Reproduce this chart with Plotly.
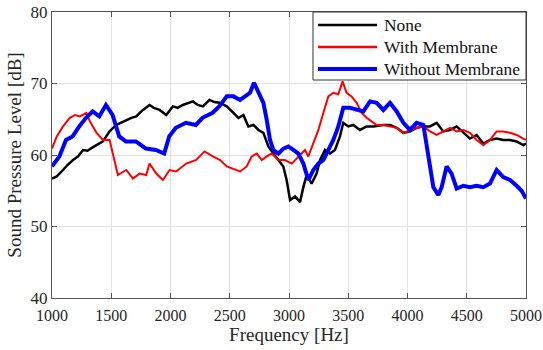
import plotly.graph_objects as go

# ---------------- data ----------------
none_f = [1000, 1040, 1093, 1130, 1177, 1220, 1261, 1300, 1346, 1390, 1430, 1486, 1542, 1580, 1627, 1670,
          1711, 1767, 1823, 1860, 1908, 1964, 2020, 2060, 2104, 2150, 2189, 2230, 2273, 2329, 2370, 2413,
          2475, 2531, 2573, 2615, 2657, 2700, 2742, 2784, 2826, 2868, 2910, 2952, 2980, 3009, 3051, 3093,
          3121, 3149, 3191, 3233, 3262, 3304, 3346, 3388, 3430, 3458, 3500, 3543, 3599, 3655, 3711, 3767,
          3796, 3852, 3909, 3965, 4021, 4077, 4134, 4190, 4246, 4302, 4359, 4415, 4471, 4527, 4583, 4640,
          4696, 4752, 4808, 4865, 4921, 4977, 5000]
none_db = [56.7, 57.0, 57.9, 58.6, 59.3, 59.8, 60.7, 60.6, 61.1, 61.5, 61.9, 63.3, 64.2, 64.5, 64.9, 65.2,
           65.4, 66.3, 67.0, 66.6, 66.3, 65.6, 66.8, 66.6, 67.0, 67.3, 67.5, 67.0, 66.8, 67.7, 67.4, 67.3,
           66.8, 65.9, 65.2, 65.6, 64.0, 64.2, 63.5, 63.1, 61.2, 60.2, 59.3, 58.4, 56.5, 53.7, 54.2, 53.4,
           55.5, 57.2, 56.0, 57.4, 59.3, 60.7, 60.2, 60.7, 62.6, 64.5, 64.0, 64.2, 63.5, 64.0, 64.0, 64.2,
           64.2, 64.2, 63.8, 63.1, 63.3, 63.8, 64.0, 64.0, 64.5, 63.3, 63.5, 64.0, 63.1, 62.3, 62.8, 61.6,
           62.1, 62.3, 62.1, 62.1, 61.9, 61.4, 61.6]

with_f = [1000, 1040, 1093, 1150, 1195, 1236, 1290, 1320, 1376, 1430, 1486, 1528, 1556, 1627, 1683, 1739,
          1795, 1823, 1880, 1936, 1992, 2048, 2132, 2217, 2287, 2357, 2419, 2475, 2531, 2587, 2643, 2685,
          2728, 2770, 2812, 2854, 2910, 2966, 3023, 3079, 3135, 3163, 3205, 3248, 3290, 3332, 3374, 3416,
          3452, 3486, 3528, 3571, 3613, 3655, 3697, 3740, 3796, 3852, 3909, 3965, 4021, 4077, 4134, 4190,
          4246, 4302, 4359, 4415, 4471, 4527, 4583, 4640, 4696, 4752, 4808, 4865, 4921, 4977, 5000]
with_db = [60.9, 62.6, 64.0, 65.2, 65.6, 65.4, 65.9, 64.7, 63.1, 62.1, 62.1, 59.3, 57.2, 57.9, 56.7, 57.4,
           57.2, 58.8, 57.4, 56.5, 57.9, 57.7, 58.8, 59.3, 60.5, 59.8, 59.3, 58.4, 58.1, 57.7, 58.4, 59.8,
           60.2, 59.3, 59.8, 60.2, 59.3, 59.3, 58.8, 59.8, 60.7, 59.8, 61.6, 63.5, 65.9, 68.2, 68.7, 68.5,
           70.3, 68.7, 68.2, 67.3, 65.9, 65.2, 64.7, 64.2, 64.2, 64.0, 63.8, 63.1, 63.5, 63.8, 64.0, 63.3,
           62.8, 63.3, 63.8, 63.3, 63.5, 63.1, 62.1, 61.4, 62.1, 63.3, 63.3, 63.1, 62.8, 62.3, 62.1]

without_f = [1000, 1062, 1118, 1174, 1230, 1287, 1343, 1399, 1455, 1511, 1567, 1624, 1708, 1792, 1877, 1947,
             1989, 2045, 2130, 2214, 2270, 2355, 2411, 2475, 2531, 2587, 2629, 2671, 2705, 2742, 2784, 2812,
             2840, 2868, 2910, 2952, 2995, 3037, 3079, 3121, 3163, 3205, 3248, 3290, 3332, 3374, 3416, 3458,
             3514, 3571, 3627, 3684, 3740, 3796, 3852, 3909, 3965, 4021, 4077, 4134, 4162, 4190, 4218, 4260,
             4288, 4330, 4372, 4415, 4471, 4527, 4583, 4640, 4696, 4752, 4808, 4865, 4921, 4963, 5000]
without_db = [58.4, 59.8, 62.1, 62.6, 64.0, 65.2, 66.1, 65.4, 67.0, 65.6, 62.6, 61.9, 61.9, 60.9, 60.7, 60.2,
              62.6, 63.8, 64.5, 64.2, 65.2, 65.9, 66.8, 68.2, 68.2, 67.7, 68.2, 68.7, 70.1, 68.7, 67.3, 64.9,
              62.1, 60.7, 60.2, 60.9, 61.2, 60.7, 60.2, 58.8, 56.5, 57.9, 58.8, 59.3, 60.7, 62.1, 64.0, 66.6,
              66.6, 66.3, 66.1, 67.5, 67.3, 66.3, 67.3, 66.1, 64.5, 63.5, 64.5, 64.2, 61.6, 58.4, 55.5, 54.4,
              55.5, 58.4, 57.4, 55.3, 55.7, 55.5, 55.7, 55.5, 56.0, 57.9, 56.9, 56.5, 55.7, 55.0, 53.9]

series_names = ["None", "With Membrane", "Without Membrane"]
series_colors = ["#000000", "#ff0000", "#0000ff"]
series_widths = [2.5, 2, 4]
x_ticks = [1000, 1500, 2000, 2500, 3000, 3500, 4000, 4500, 5000]
y_ticks = [40, 50, 60, 70, 80]

# ---------------- figure ----------------
FONT = "Liberation Serif"
fig = go.Figure()
for fx, fy, nm, col, w in zip([none_f, with_f, without_f], [none_db, with_db, without_db],
                              series_names, series_colors, series_widths):
    fig.add_trace(go.Scatter(x=fx, y=fy, mode="lines", name=nm, showlegend=False,
                             line=dict(color=col, width=w)))

axis_common = dict(showline=True, linecolor="#555555", linewidth=1, mirror="allticks",
                   ticks="inside", ticklen=5, tickcolor="#555555", showgrid=True,
                   gridcolor="#e2e2e2", gridwidth=1, zeroline=False)

fig.update_xaxes(range=[1000, 5000], tickvals=x_ticks, ticktext=[str(v) for v in x_ticks],
                 tickfont=dict(family=FONT, size=16, color="#262626"), ticklabelstandoff=3,
                 title=dict(text="Frequency [Hz]", font=dict(family=FONT, size=19, color="#262626"),
                            standoff=0), **axis_common)
fig.update_yaxes(range=[40, 80], tickvals=y_ticks, ticktext=[str(v) for v in y_ticks],
                 tickfont=dict(family=FONT, size=17, color="#262626"),
                 title=dict(text="Sound Pressure Level [dB]",
                            font=dict(family=FONT, size=19, color="#262626"), standoff=3),
                 **axis_common)

# legend box (drawn as decoration in paper coordinates)
shapes = [dict(type="rect", xref="paper", yref="paper", x0=0.5506, x1=1.0, y0=0.7622, y1=1.0,
               fillcolor="white", line=dict(color="#333333", width=1), layer="above")]
annotations = []
row_y = [0.9545, 0.8776, 0.8007]
for ry, nm, col, w in zip(row_y, series_names, series_colors, series_widths):
    shapes.append(dict(type="line", xref="paper", yref="paper", x0=0.5612, x1=0.6857, y0=ry, y1=ry,
                       line=dict(color=col, width=max(w, 2.5)), layer="above"))
    annotations.append(dict(xref="paper", yref="paper", x=0.6963, y=ry, xanchor="left", yanchor="middle",
                            text=nm, showarrow=False,
                            font=dict(family=FONT, size=17.4, color="#111111")))

fig.update_layout(
    width=543, height=350,
    margin=dict(l=52, r=17, t=12, b=52, autoexpand=False),
    paper_bgcolor="white", plot_bgcolor="white",
    showlegend=False,
    shapes=shapes, annotations=annotations,
)

fig.write_html("out.html", config={"displayModeBar": False},
               post_script="document.body.style.margin='0';document.body.style.padding='0';")
